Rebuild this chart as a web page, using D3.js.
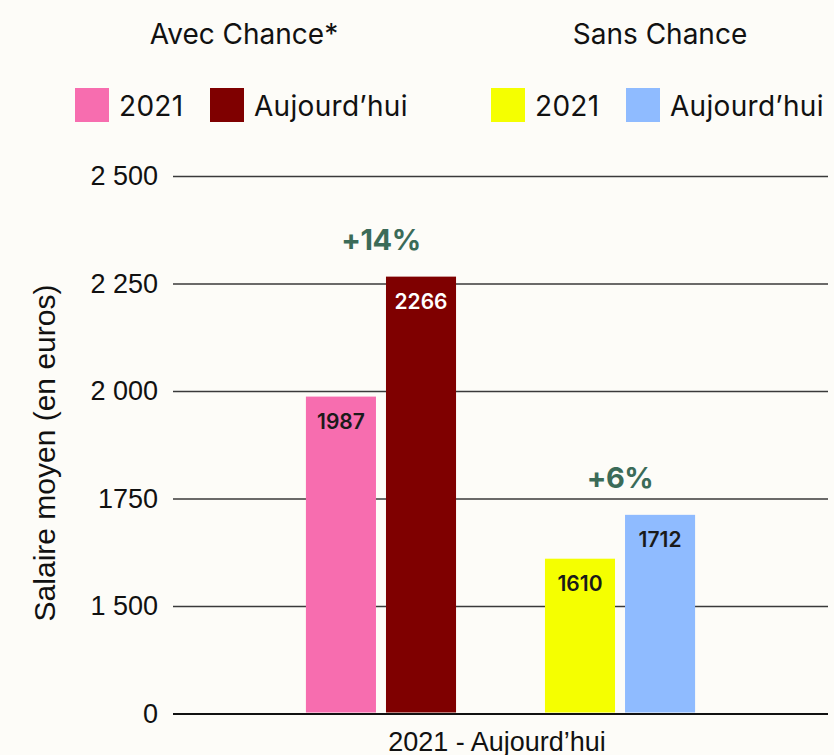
<!DOCTYPE html>
<html>
<head>
<meta charset="utf-8">
<script src="https://cdn.jsdelivr.net/npm/d3@7"></script>
<style>
  body { margin: 0; background: #fdfcf8; }
  svg { display: block; font-family: Inter, "Noto Sans", sans-serif; }
</style>
</head>
<body>
<div id="chart"></div>
<script>
// data
var groups = ["Avec Chance*", "Sans Chance"];
var periods = ["2021", "Aujourd\u2019hui"];
var avecValues = [1987, 2266];
var sansValues = [1610, 1712];
var growthLabels = ["+14%", "+6%"];
var tickValues = [1250, 1500, 1750, 2000, 2250, 2500];
var tickLabels = ["0", "1 500", "1750", "2 000", "2 250", "2 500"];
var colors = [["#f76daf", "#7f0000"], ["#f5ff00", "#8fbbff"]];
var labelColors = [["#1a1a1a", "#ffffff"], ["#1a1a1a", "#1a1a1a"]];

var svgWidth = 834;
var svgHeight = 755;

var margin = { top: 176, right: 6, bottom: 41.5, left: 173 };
var width = svgWidth - margin.left - margin.right;
var height = svgHeight - margin.top - margin.bottom;

var svg = d3.select("#chart")
  .append("svg")
  .attr("width", svgWidth)
  .attr("height", svgHeight);

svg.append("rect").attr("width", svgWidth).attr("height", svgHeight).attr("fill", "#fdfcf8");

var chartGroup = svg.append("g")
  .attr("transform", `translate(${margin.left}, ${margin.top})`);

// scales (the axis is broken: "0" sits one step below 1500)
var x0 = d3.scaleBand().domain(groups).range([0, width]).paddingInner(0.372).paddingOuter(0.556);
var x1 = d3.scaleBand().domain(periods).range([0, x0.bandwidth()]).paddingInner(0.125);
var y = d3.scaleLinear().domain([1250, 2500]).range([height, 0]);

// y axis + gridlines
var leftAxis = d3.axisLeft(y)
  .tickValues(tickValues)
  .tickFormat((d, i) => tickLabels[i])
  .tickSize(-width)
  .tickPadding(15);

var yAxis = chartGroup.append("g").call(leftAxis);
yAxis.select(".domain").remove();
yAxis.selectAll(".tick line").attr("stroke", "#3a3a3a").attr("stroke-width", 1.3);
yAxis.selectAll(".tick line").filter(d => d === 1250).attr("stroke", "#111").attr("stroke-width", 2);
yAxis.selectAll(".tick text")
  .attr("fill", "#111")
  .style("font-size", "27px")
  .style("font-family", "'Liberation Sans', Arial, sans-serif");

// bars
var data = groups.map((g, gi) => ({
  group: g,
  values: (gi === 0 ? avecValues : sansValues).map((v, pi) => ({ period: periods[pi], value: v, gi: gi, pi: pi }))
}));

var groupSel = chartGroup.selectAll("g.bar-group")
  .data(data)
  .enter()
  .append("g")
  .attr("class", "bar-group")
  .attr("transform", d => `translate(${x0(d.group)}, 0)`);

groupSel.selectAll("rect")
  .data(d => d.values)
  .enter()
  .append("rect")
  .attr("x", d => x1(d.period))
  .attr("y", d => y(d.value))
  .attr("width", x1.bandwidth())
  .attr("height", d => y(1250) - y(d.value) - 1)
  .attr("fill", d => colors[d.gi][d.pi]);

groupSel.selectAll("text.value")
  .data(d => d.values)
  .enter()
  .append("text")
  .attr("class", "value")
  .attr("x", d => x1(d.period) + x1.bandwidth() / 2)
  .attr("y", d => y(d.value) + 32)
  .attr("text-anchor", "middle")
  .attr("fill", d => labelColors[d.gi][d.pi])
  .style("font-size", "21px")
  .style("font-weight", "600")
  .text(d => d.value);

// growth annotations
groupSel.append("text")
  .attr("x", x0.bandwidth() / 2)
  .attr("y", d => y(d3.max(d.values, v => v.value)) - 27)
  .attr("text-anchor", "middle")
  .attr("fill", "#3b6b58")
  .style("font-size", "29px")
  .style("font-weight", "700")
  .style("letter-spacing", "-0.5px")
  .text((d, i) => growthLabels[i]);

// group titles
svg.selectAll("text.title")
  .data(groups)
  .enter()
  .append("text")
  .attr("class", "title")
  .attr("x", (d, i) => i === 0 ? 244 : 660)
  .attr("y", 44)
  .attr("text-anchor", "middle")
  .attr("fill", "#111")
  .style("font-size", "28px")
  .text(d => d);

// legend
var legendItems = [
  { x: 75, color: colors[0][0], label: periods[0] },
  { x: 210, color: colors[0][1], label: periods[1] },
  { x: 491, color: colors[1][0], label: periods[0] },
  { x: 626, color: colors[1][1], label: periods[1] }
];
var legend = svg.selectAll("g.legend")
  .data(legendItems)
  .enter()
  .append("g")
  .attr("class", "legend")
  .attr("transform", d => `translate(${d.x}, 88)`);
legend.append("rect").attr("width", 34).attr("height", 34).attr("fill", d => d.color);
legend.append("text")
  .attr("x", 44)
  .attr("y", 28)
  .attr("fill", "#111")
  .style("font-size", "28px")
  .style("letter-spacing", "0.3px")
  .text(d => d.label);

// axis titles
svg.append("text")
  .attr("transform", "translate(55, 453) rotate(-90)")
  .attr("text-anchor", "middle")
  .attr("fill", "#111")
  .style("font-size", "30px")
  .style("font-family", "'Liberation Sans', Arial, sans-serif")
  .text("Salaire moyen (en euros)");

svg.append("text")
  .attr("x", 497)
  .attr("y", 751)
  .attr("text-anchor", "middle")
  .attr("fill", "#111")
  .style("font-size", "27px")
  .style("font-family", "'Liberation Sans', Arial, sans-serif")
  .text("2021 - Aujourd\u2019hui");
</script>
</body>
</html>
